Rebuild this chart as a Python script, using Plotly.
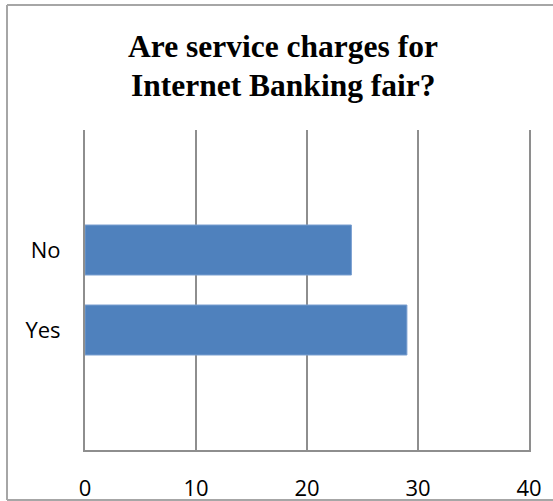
import plotly.graph_objects as go

# Survey responses
categories = ["Yes", "No"]
counts = [29, 24]
x_ticks = [0, 10, 20, 30, 40]
title_lines = ["Are service charges for", "Internet Banking fair?"]

W, H = 553, 501
L, R, T, B = 85, 24, 130, 51
pw, ph = W - L - R, H - T - B

fig = go.Figure(
    go.Bar(
        x=counts,
        y=categories,
        orientation="h",
        width=0.625,
        marker=dict(color="#4f81bd", line=dict(color="#7a9fd0", width=1)),
        hoverinfo="x+y",
    )
)

grid_color = "#8e8e8e"
frame_color = "#a6a6a6"
label_font = dict(family="Open Sans, Liberation Sans, sans-serif", size=22, color="#000000")
title_font = dict(family="Liberation Serif, Times New Roman, serif", size=31.5, color="#000000")

# two-line title, each line placed on its own row
title_rows = [46.5, 85.5]
annotations = [
    dict(
        text=f"<b>{line}</b>",
        font=title_font,
        xref="paper",
        yref="paper",
        x=(283 - L) / pw,
        y=1 + (T - row) / ph,
        xanchor="center",
        yanchor="middle",
        showarrow=False,
    )
    for line, row in zip(title_lines, title_rows)
]


def px_x(v):
    return (v - L) / pw


def px_y(v):
    return (H - B - v) / ph


# outer chart frame: left, top and bottom edges
frame = [
    ((7, 5), (7, 500)),
    ((7, 5), (W + 5, 5)),
    ((7, 500), (W + 5, 500)),
]
shapes = [
    dict(
        type="line",
        xref="paper",
        yref="paper",
        x0=px_x(a[0]),
        y0=px_y(a[1]),
        x1=px_x(b[0]),
        y1=px_y(b[1]),
        line=dict(color=frame_color, width=2),
        layer="above",
    )
    for a, b in frame
]

fig.update_layout(
    width=W,
    height=H,
    margin=dict(l=L, r=R, t=T, b=B, autoexpand=False),
    paper_bgcolor="#ffffff",
    plot_bgcolor="#ffffff",
    showlegend=False,
    xaxis=dict(
        range=[0, 40],
        tickvals=x_ticks,
        ticktext=[str(v) for v in x_ticks],
        showgrid=True,
        gridcolor=grid_color,
        gridwidth=2,
        zeroline=False,
        showline=True,
        linecolor=grid_color,
        linewidth=2,
        ticks="outside",
        ticklen=18,
        tickcolor="rgba(0,0,0,0)",
        tickfont=label_font,
        automargin=False,
        fixedrange=True,
    ),
    yaxis=dict(
        type="category",
        categoryorder="array",
        categoryarray=categories,
        range=[-1.5, 2.5],
        showgrid=False,
        zeroline=False,
        showline=True,
        mirror=True,
        linecolor=grid_color,
        linewidth=2,
        ticks="outside",
        ticklen=18,
        tickcolor="rgba(0,0,0,0)",
        tickfont=label_font,
        automargin=False,
        fixedrange=True,
    ),
    annotations=annotations,
    shapes=shapes,
)

fig.write_html("out.html")
